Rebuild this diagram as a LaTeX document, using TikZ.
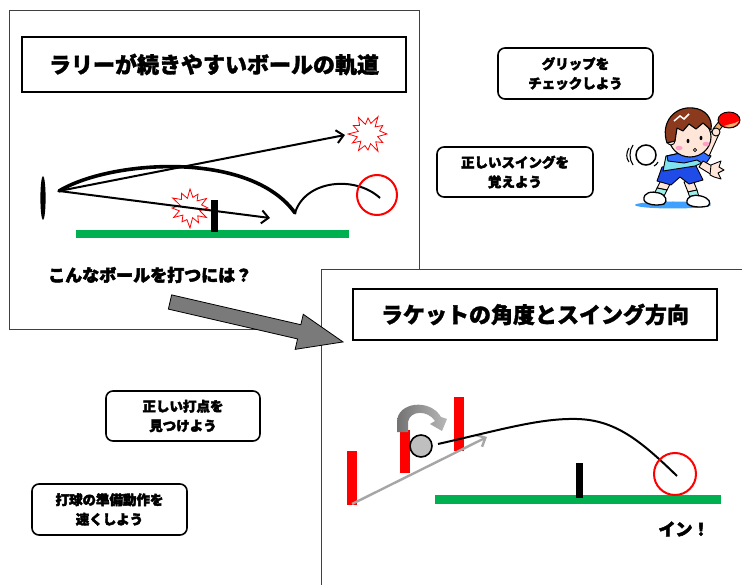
\documentclass[tikz,border=0pt]{standalone}
\usepackage{fontspec}
\newfontfamily\jp{Noto Sans CJK JP}[BoldFeatures={FakeBold=1.5}]
\newfontfamily\jppop{Noto Sans CJK JP}[BoldFeatures={FakeBold=3}]
\usetikzlibrary{arrows.meta,shapes.geometric}
\definecolor{court}{HTML}{00B050}
\definecolor{skin}{HTML}{FFE6D9}
\definecolor{hair}{HTML}{8C3A1E}
\definecolor{shirt}{HTML}{2F6BFF}
\definecolor{shirtlt}{HTML}{7FE3F0}
\definecolor{shorts}{HTML}{1F4BE8}
\definecolor{sock}{HTML}{9FF0E8}
\definecolor{handle}{HTML}{F0B070}
\definecolor{cheek}{HTML}{FF9FC8}
\definecolor{shadowblue}{HTML}{3FA0FF}
\tikzset{
  panel/.style={draw=black!75, line width=0.9pt, fill=white},
  titlebox/.style={draw=black, line width=1.8pt, fill=white, inner sep=0pt,
    font=\jp\bfseries\fontsize{22}{26}\selectfont},
  tipbox/.style={draw=black, line width=1.6pt, rounded corners=7pt, fill=white,
    inner sep=0pt, align=center, font=\jppop\bfseries\fontsize{13.5}{19.5}\selectfont},
  caption/.style={inner sep=0pt, font=\jppop\bfseries\fontsize{17}{19}\selectfont},
  burst/.style={draw=red, line width=0.8pt, fill=white},
  target/.style={draw=red, line width=2pt},
  shot/.style={line width=2pt, -{Straight Barb[length=7pt,width=13pt,line width=2pt]}},
  outl/.style={draw=black, line width=0.9pt, line join=round},
}
\begin{document}
\begin{tikzpicture}[x=1pt,y=-1pt]
\useasboundingbox (0,0) rectangle (742,585);

% ---------- first panel: rally trajectory ----------
\draw[panel] (9,10) rectangle (419,329);
\node[titlebox, minimum width=384pt, minimum height=55pt] (t1) at (214,64.5)
  {ラリーが続きやすいボールの軌道};

\fill[court] (76,230) rectangle (349,238.5);
\fill[black] (211,200) rectangle (217.5,232);
\fill[black] (43,198) ellipse [x radius=2.6, y radius=22];

% bursts where the ball goes out
\begin{scope}[shift={(368,134)}]
  \draw[burst] (0:19) \foreach \a/\r in {15/10,30/17,45/11,60/20,75/10,90/16,105/12,
     120/19,135/10,150/18,165/11,180/20,195/10,210/17,225/12,240/19,255/10,270/16,
     285/11,300/20,315/10,330/17,345/12} { -- (\a:\r) } -- cycle;
\end{scope}
\begin{scope}[shift={(190,208)}]
  \draw[burst] (0:18) \foreach \a/\r in {15/10,30/19,45/11,60/17,75/10,90/20,105/12,
     120/16,135/10,150/19,165/11,180/18,195/10,210/20,225/12,240/17,255/10,270/19,
     285/11,300/16,315/10,330/19,345/12} { -- (\a:\r) } -- cycle;
\end{scope}

\coordinate (hit) at (59,191);
\coordinate (long) at (345,135);
\coordinate (short) at (270,218);
\coordinate (bounce) at (295,213);
\coordinate (land) at (380,198);
\draw[shot] (hit) -- (long);
\draw[shot] (hit) -- (short);
\draw[line width=3.6pt, line cap=round] (hit) .. controls (110,160) and (250,150) .. (bounce);
\draw[line width=2pt] (bounce) .. controls (305,180) and (355,175) .. (land);
\draw[target] (377,195) circle [radius=20];

\node[caption, anchor=west] (q1) at (48,275) {こんなボールを打つには？};

% ---------- second panel: racket angle and swing ----------
\draw[panel] (321,269) rectangle (745,600);
\node[titlebox, minimum width=364pt, minimum height=51pt] (t2) at (535,314.5)
  {ラケットの角度とスイング方向};

\fill[court] (435,495) rectangle (721,504);
\fill[black] (576,463) rectangle (583,498);
\fill[red] (347,451) rectangle (357,505);
\fill[red] (400,430) rectangle (410,473);
\fill[red] (454,397) rectangle (464,451);

% turning arrow above the racket
\shade[left color=black!55, right color=black!28]
  (397,432) -- (397,422) .. controls (397,402) and (430,398) .. (441,417)
  -- (447,419) -- (442,431) -- (430,424) -- (435,421)
  .. controls (428,410) and (410,410) .. (408,422) -- (408,432) -- cycle;

\coordinate (swing0) at (352,504);
\coordinate (swing1) at (487,437);
\draw[black!35, line width=2.4pt, -{Straight Barb[length=7pt,width=13pt,line width=2.4pt]}]
  (swing0) -- (swing1);

\coordinate (ball2) at (421,446);
\coordinate (peak2) at (577,419);
\coordinate (land2) at (677,476);
\draw[line width=2pt] (438,444) .. controls (500,430) and (540,418) .. (peak2)
  .. controls (615,420) and (640,440) .. (land2);
\filldraw[fill=black!25, draw=black, line width=1.6pt] (ball2) circle [radius=11];
\draw[target] (675,474) circle [radius=21];
\node[caption] (in) at (684,529) {イン！};

% ---------- block arrow between panels ----------
\begin{scope}[shift={(170,302)}, rotate=-13]
  \filldraw[fill=black!52, draw=black, line width=0.8pt]
    (0,-7.3) -- (132.6,-7.3) -- (132.6,-18) -- (177.6,0) -- (132.6,18)
    -- (132.6,7.3) -- (0,7.3) -- cycle;
\end{scope}

% ---------- advice boxes ----------
\node[tipbox, minimum width=155pt, minimum height=51pt] (grip) at (575.5,73.5)
  {グリップを\\チェックしよう};
\node[tipbox, minimum width=156pt, minimum height=50pt] (swing) at (515,172)
  {正しいスイングを\\覚えよう};
\node[tipbox, minimum width=154pt, minimum height=50pt] (point) at (183,416)
  {正しい打点を\\見つけよう};
\node[tipbox, minimum width=155pt, minimum height=51pt] (ready) at (109.5,509.5)
  {打球の準備動作を\\速くしよう};

% ---------- player ----------
\fill[shadowblue] (673,205) ellipse [x radius=38, y radius=3.5];
% legs and socks
\filldraw[outl, fill=skin] (661,180) -- (671,182) -- (667,190) -- (657,188) -- cycle;
\filldraw[outl, fill=sock] (657,188) -- (667,190) -- (664,196) -- (654,194) -- cycle;
\filldraw[outl, fill=skin] (684,182) -- (693,180) -- (697,190) -- (688,192) -- cycle;
\filldraw[outl, fill=sock] (688,192) -- (697,190) -- (699,197) -- (690,198) -- cycle;
% shoes
\filldraw[outl, line width=1.3pt, fill=white] (644,200) .. controls (643,192) and (652,191) .. (659,193)
  .. controls (666,195) and (668,201) .. (664,204) .. controls (657,206) and (646,205) .. cycle;
\filldraw[outl, line width=1.3pt, fill=white] (687,203) .. controls (686,196) and (694,194) .. (701,196)
  .. controls (709,198) and (712,203) .. (708,206) .. controls (700,208) and (689,207) .. cycle;
% shorts
\filldraw[outl, fill=shorts] (662,167) -- (694,162) -- (703,180) -- (689,184) -- (680,177)
  -- (671,185) -- (657,181) -- cycle;
% shirt
\filldraw[outl, fill=shirtlt] (666,156) -- (699,149) -- (704,162) -- (695,166) -- (663,171) -- cycle;
\filldraw[outl, fill=shirt] (667,156) -- (699,149) -- (711,156) -- (705,165) -- (697,160)
  -- (684,163) -- (668,161) -- cycle;
% stretched arm and hand
\filldraw[outl, fill=skin] (703,161) -- (714,167) -- (712,175) -- (699,167) -- cycle;
\filldraw[outl, fill=skin] (711,165) -- (721,161) -- (719,167) -- (724,170) -- (718,173)
  -- (721,179) -- (714,177) -- (710,175) -- cycle;
% raised arm, hand and racket
\filldraw[outl, fill=skin] (700,150) -- (712,131) -- (719,134) -- (709,156) -- cycle;
\filldraw[outl, fill=handle] (713,129) -- (720,120) -- (725,123) -- (718,132) -- cycle;
\filldraw[outl, fill=red] (729,120) ellipse [x radius=11, y radius=8];
\fill[handle] (724,126) .. controls (730,129) and (737,126) .. (739,121)
  .. controls (734,124) and (729,124) .. cycle;
\filldraw[outl, fill=skin] (716,132) circle [radius=4];
% head
\filldraw[outl, line width=1.1pt, fill=skin] (690,137) ellipse [x radius=21, y radius=20];
\filldraw[outl, fill=skin] (671,141) circle [radius=4];
\filldraw[outl, line width=1.1pt, fill=hair] (667,143) .. controls (660,122) and (675,106) .. (693,108)
  .. controls (705,109) and (713,118) .. (711,130) -- (703,123) -- (696,129) -- (689,124)
  -- (683,131) -- (677,128) -- (675,141) -- cycle;
\draw[white, line width=1.5pt] (674,121) -- (680,116) -- (684,119) -- (689,114);
\fill[black] (688,141) ellipse [x radius=1.4, y radius=2.2];
\fill[black] (701,138) ellipse [x radius=1.4, y radius=2.2];
\fill[cheek] (679,148) ellipse [x radius=3.5, y radius=2.2];
\fill[cheek] (706,144) ellipse [x radius=3.5, y radius=2.2];
\draw[line width=0.8pt] (695,150) circle [radius=1.6];
% ball with motion marks
\filldraw[draw=black, line width=1.5pt, fill=white] (646,155) circle [radius=10];
\draw[line width=1.1pt] (633,145) .. controls (629,151) and (629,159) .. (633,165);
\draw[line width=1.1pt] (629,148) .. controls (626,153) and (626,158) .. (629,162);
\draw[line width=1.1pt] (654,166) .. controls (656,165) and (657,164) .. (658,162);
\end{tikzpicture}
\end{document}
